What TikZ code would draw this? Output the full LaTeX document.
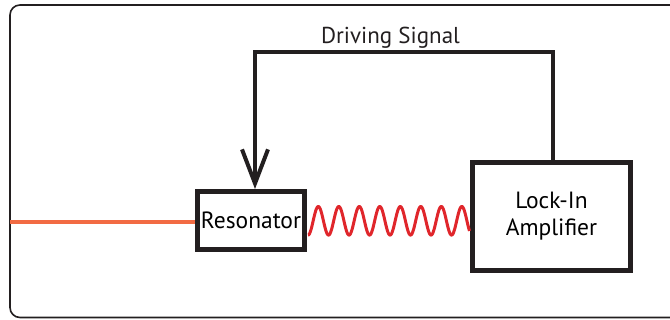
\documentclass[tikz,border=0pt]{standalone}
\usepackage{fontspec}
\setmainfont{PT Sans}
\usetikzlibrary{arrows.meta}
\definecolor{ink}{HTML}{231F20}
\definecolor{orangeline}{HTML}{F26B43}
\definecolor{wavered}{HTML}{E0262B}
\tikzset{
  box/.style={draw=ink, line width=5pt, rectangle, inner sep=0pt, align=center, font=\fontsize{23.5}{27}\selectfont},
  drive/.style={draw=ink, line width=4pt},
  label/.style={font=\fontsize{23}{27}\selectfont, text=ink, inner sep=0pt},
}
\begin{document}
\begin{tikzpicture}[x=1pt, y=-1pt]
\useasboundingbox (0,0) rectangle (670,320);
% outer frame
\draw[ink, line width=1.6pt, rounded corners=10pt] (10,5) rectangle (700,317.5);
% nodes
\node[box, minimum width=107pt, minimum height=58pt] (res) at (251,220.5) {Resonator};
\node[box, minimum width=158pt, minimum height=108pt] (lock) at (551.5,216.5) {Lock-In\\Amplifier};
\node[label, anchor=base] (sig) at (390.5,44) {Driving Signal};
% driving signal feedback
\coordinate (tr) at (553,52.3);
\coordinate (tl) at (255,52.3);
\draw[drive, -{Straight Barb[length=34pt, width=26pt]}] (lock.north -| tr) -- (tr) -- (tl) -- (tl |- res.north);
% orange input line
\coordinate (in) at (10,221.7);
\draw[orangeline, line width=4pt] (in) -- (in -| res.west);
% wave between resonator and lock-in
\draw[wavered, line width=3pt, line join=round] plot[domain=308:469.5, samples=300, smooth] (\x, {220.8 - 14.3*cos(17.561*(\x-318.3))});
\end{tikzpicture}
\end{document}
